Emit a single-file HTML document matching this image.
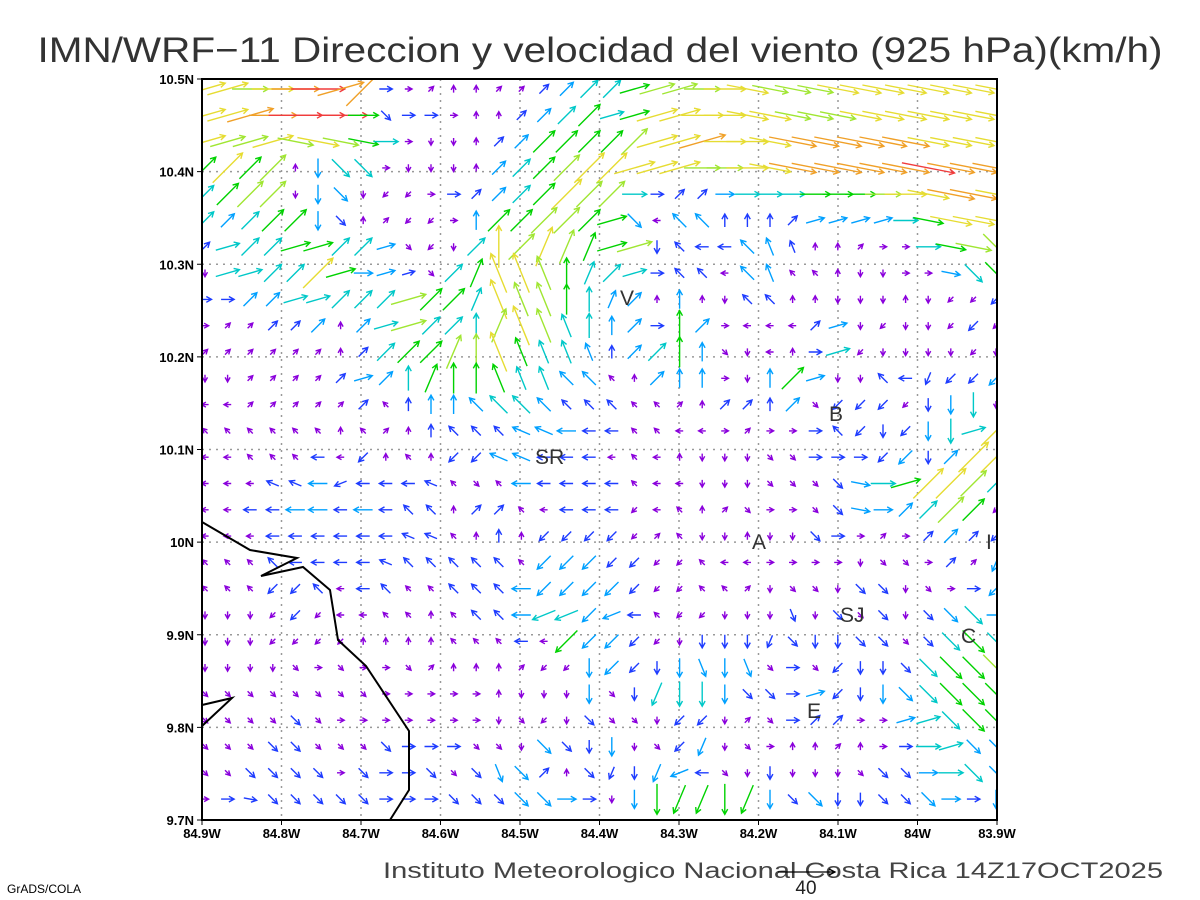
<!DOCTYPE html>
<html><head><meta charset="utf-8"><style>
html,body{margin:0;padding:0;background:#fff;}
svg{display:block;font-family:"Liberation Sans",sans-serif;}
</style></head><body>
<svg id="chart" width="1200" height="900" viewBox="0 0 1200 900">
<defs><clipPath id="plotclip"><rect x="202" y="79" width="795" height="741"/></clipPath></defs>
<text x="600" y="62" text-anchor="middle" font-size="35" fill="#333" textLength="1125" lengthAdjust="spacingAndGlyphs">IMN/WRF−11 Direccion y velocidad del viento (925 hPa)(km/h)</text>
<g id="grid"></g>
<g id="arrows" clip-path="url(#plotclip)"></g>
<g fill="none" stroke="#000" stroke-width="2">
<polyline points="202,522 250,550 297,558 261,576 303,567 330,590 338,640 366,666 409,731 409,790 390,820"/>
<polyline points="202,705 232,698 202,726"/>
</g>
<g font-size="21" fill="#333">
<text x="620" y="305">V</text><text x="829" y="421">B</text><text x="535" y="464">SR</text>
<text x="752" y="549">A</text><text x="986" y="549">I</text><text x="840" y="622">SJ</text>
<text x="961" y="643">C</text><text x="807" y="718">E</text>
</g>
<rect x="202" y="79" width="795" height="741" fill="none" stroke="#000" stroke-width="2"/>
<g id="axes" font-size="13" font-weight="bold" fill="#000"></g>
<text x="383" y="878" font-size="22" fill="#444" textLength="780" lengthAdjust="spacingAndGlyphs">Instituto Meteorologico Nacional Costa Rica 14Z17OCT2025</text>
<g stroke="#000" stroke-width="1.3" fill="none">
<line x1="778" y1="872" x2="835" y2="872"/><polyline points="829,869 835,872 829,875"/>
</g>
<text x="806" y="894" font-size="19" text-anchor="middle" fill="#222">40</text>
<text x="7" y="893" font-size="12" fill="#000">GrADS/COLA</text>
</svg>
<script>
const lonTicks = ["84.9W","84.8W","84.7W","84.6W","84.5W","84.4W","84.3W","84.2W","84.1W","84W","83.9W"];
const latTicks = ["9.7N","9.8N","9.9N","10N","10.1N","10.2N","10.3N","10.4N","10.5N"];
const speedByCode = [0,5,9,13,17,21,25,29,33,37];
const colorByCode = ["#000","#8a00dc","#1e3cff","#00a0ff","#00c8c8","#00d200","#a0e632","#e6dc32","#f0a028","#f03c3c"];
const angleByCode = {"6":0,"e":16,"9":45,"n":67,"8":90,"m":112,"7":135,"w":157,"4":180,"v":202,"1":225,"s":247,"2":270,"t":292,"3":315,"f":349};
const windRows = [
"e7 e7 66 67 68 69 e8 98 62 61 91 81 81 91 91 92 93 94 94 e5 e6 e6 66 67 f7 f6 f6 f6 f7 f7 f7 f7 f7 f7 f7 f7",
"e7 e7 e8 68 69 69 69 65 32 62 62 61 81 81 92 93 94 95 e4 e5 e7 e7 67 67 f7 f7 f6 f6 f6 f7 f7 f7 f7 f7 f7 f7",
"e7 e6 e6 e7 f6 f7 f6 f5 64 61 21 21 81 92 93 95 95 95 95 96 e7 e7 e8 67 67 f7 f8 f8 f8 f8 f8 f8 f7 f7 f7 f7",
"95 97 95 96 81 23 34 34 61 21 21 21 81 93 94 95 96 97 97 e7 e7 e7 66 66 67 f7 f8 f8 f8 f8 f8 f8 f9 f8 f8 f8",
"94 95 96 96 21 23 33 21 11 11 61 62 92 93 94 95 97 96 96 64 62 92 92 63 64 64 64 65 65 65 66 67 f7 f8 f8 f7",
"94 93 94 95 95 23 32 81 91 11 11 61 83 95 95 96 96 95 e5 33 41 73 73 82 82 82 92 e3 e3 e3 e3 64 f5 f7 f7 f7",
"92 e4 94 94 e5 e5 94 94 e3 31 11 21 94 87 96 n7 n6 n5 e5 e6 22 72 42 42 73 m3 m2 81 81 91 61 61 64 f5 f6 36",
"21 e4 e4 94 94 97 e5 63 e3 e2 31 94 n5 m7 m7 m6 85 n4 94 e4 62 72 72 41 73 m3 71 71 81 21 21 61 61 f3 34 35",
"62 62 93 93 e4 e4 94 94 94 e6 95 95 n4 m7 m6 m6 85 84 n3 93 81 83 81 21 72 72 81 81 21 21 21 81 21 11 11 12",
"61 91 91 92 92 93 81 93 e4 e6 94 94 84 n6 m7 m6 m4 84 83 93 62 85 93 61 41 41 41 92 e3 21 11 21 21 11 12 11",
"91 91 91 91 91 91 81 92 94 95 95 n6 86 m7 m5 m4 m4 m3 82 93 94 85 83 31 21 41 81 62 e4 11 21 21 21 21 11 21",
"21 21 91 91 91 91 92 e3 93 84 n5 85 85 m5 m4 m4 73 73 71 81 93 83 83 61 21 83 95 e3 21 21 72 42 s2 12 12 13",
"41 41 91 91 91 91 91 92 71 82 83 83 73 74 74 73 72 72 72 71 71 91 81 92 92 82 93 31 12 12 12 11 22 23 24 21",
"71 71 71 71 71 71 81 71 91 81 82 72 72 72 w3 w3 43 42 42 71 71 41 41 61 91 61 61 62 72 12 22 12 23 24 e4 97",
"41 41 71 71 71 42 41 12 81 71 81 12 12 w3 w3 42 42 42 41 71 41 81 21 21 21 31 31 62 62 62 12 13 22 93 97 97",
"41 41 41 w2 w2 43 v2 42 42 42 w2 71 31 71 43 42 42 42 42 71 41 41 21 21 21 31 31 31 32 f3 64 e5 97 97 96 94",
"41 41 42 42 43 43 42 43 42 72 72 81 92 92 71 41 42 42 42 11 41 71 81 91 31 61 61 31 32 f3 63 93 94 96 95 11",
"41 41 41 42 42 42 42 42 42 w2 w2 71 81 82 81 12 12 12 12 11 91 71 21 21 81 21 21 32 62 61 91 61 92 93 92 12",
"71 71 71 72 42 42 42 42 w2 72 72 72 72 72 71 13 13 13 12 12 11 11 71 41 41 61 61 61 61 21 31 31 61 92 91 s3",
"71 71 71 12 12 72 41 42 72 71 71 72 72 72 43 13 13 13 13 12 11 11 71 71 91 21 31 31 21 32 32 21 31 61 62 13",
"21 21 21 11 12 11 41 41 71 71 81 71 72 72 43 v4 v4 13 v3 42 71 11 11 21 21 21 t2 21 32 31 32 21 32 33 34 63",
"21 21 21 11 11 11 11 81 81 81 81 71 71 71 42 41 15 13 13 12 11 21 22 22 22 s2 32 22 22 32 32 31 32 34 35 34",
"21 21 21 21 31 61 31 61 61 31 91 81 81 81 91 11 11 23 13 12 22 23 t3 23 t3 31 62 31 12 22 22 32 34 35 35 36",
"31 31 31 31 31 31 31 31 61 61 61 61 61 81 21 21 21 23 31 22 s4 24 24 23 32 32 62 e3 12 22 23 33 34 35 35 35",
"31 31 31 31 32 31 61 61 61 61 61 61 61 21 31 11 21 32 31 31 21 12 12 21 91 31 62 92 92 61 61 e3 e4 34 35 35",
"31 31 31 32 32 31 31 31 32 62 62 62 31 31 21 33 32 22 23 21 31 12 s3 21 31 61 81 81 91 81 61 62 64 e4 33 33",
"31 31 32 32 32 32 61 32 62 62 32 31 32 t3 33 92 81 32 s2 22 s3 v3 42 31 21 22 21 21 21 31 32 32 63 64 34 33",
"61 62 f2 32 32 32 32 32 62 62 62 32 32 32 33 33 63 62 21 23 25 s5 s5 25 s5 23 32 33 22 22 32 32 33 63 62 23"
];
const NS = "http://www.w3.org/2000/svg";
const X0 = 202, X1 = 997, Y0 = 820, Y1 = 79;
const xLon = k => X0 + (X1 - X0) * k / 10;
const yLat = k => Y0 - (Y0 - Y1) * k / 8;
const colX = i => 205 + 22.6 * i;
const rowY = j => 89 + 26.3 * j;
const lenOf = s => s * 1.45;

const grid = document.getElementById('grid');
const axes = document.getElementById('axes');
for (let k = 0; k < lonTicks.length; k++) {
  const x = xLon(k);
  if (k > 0 && k < lonTicks.length - 1) {
    const l = document.createElementNS(NS, 'line');
    
    
    l.setAttribute('x1', x); l.setAttribute('x2', x); l.setAttribute('y1', Y1); l.setAttribute('y2', Y0);
    l.setAttribute('stroke', '#999'); l.setAttribute('stroke-width', '1.5'); l.setAttribute('stroke-dasharray', '2,5');
    grid.appendChild(l);
  }
  const t = document.createElementNS(NS, 'text');
  
  
  t.setAttribute('x', x); t.setAttribute('y', 838); t.setAttribute('text-anchor', 'middle');
  t.textContent = lonTicks[k];
  axes.appendChild(t);
  const tk = document.createElementNS(NS, 'line');
  
  
  tk.setAttribute('x1', x); tk.setAttribute('x2', x); tk.setAttribute('y1', Y0); tk.setAttribute('y2', Y0 + 5);
  tk.setAttribute('stroke', '#000');
  axes.appendChild(tk);
}
for (let k = 0; k < latTicks.length; k++) {
  const y = yLat(k);
  if (k > 0 && k < latTicks.length - 1) {
    const l = document.createElementNS(NS, 'line');
    
    
    l.setAttribute('x1', X0); l.setAttribute('x2', X1); l.setAttribute('y1', y); l.setAttribute('y2', y);
    l.setAttribute('stroke', '#999'); l.setAttribute('stroke-width', '1.5'); l.setAttribute('stroke-dasharray', '2,5');
    grid.appendChild(l);
  }
  const t = document.createElementNS(NS, 'text');
  
  
  t.setAttribute('x', 194); t.setAttribute('y', y + 5); t.setAttribute('text-anchor', 'end');
  t.textContent = latTicks[k];
  axes.appendChild(t);
  const tk = document.createElementNS(NS, 'line');
  
  
  tk.setAttribute('x1', X0 - 5); tk.setAttribute('x2', X0); tk.setAttribute('y1', y); tk.setAttribute('y2', y);
  tk.setAttribute('stroke', '#000');
  axes.appendChild(tk);
}

const arrows = document.getElementById('arrows');
windRows.forEach((row, j) => {
  row.trim().split(/\s+/).forEach((cell, i) => {
    const ang = angleByCode[cell[0]] * Math.PI / 180;
    const code = +cell[1];
    const L = lenOf(speedByCode[code]);
    const cx = colX(i), cy = rowY(j);
    const dx = Math.cos(ang), dy = -Math.sin(ang);
    const x1 = cx - dx * L / 2, y1 = cy - dy * L / 2, x2 = cx + dx * L / 2, y2 = cy + dy * L / 2;
    const h = Math.min(6, 0.3 * L + 3);
    const a1 = ang + Math.PI - 0.5, a2 = ang + Math.PI + 0.5;
    const p = document.createElementNS(NS, 'path');
    
    
    p.setAttribute('d', `M${x1.toFixed(1)},${y1.toFixed(1)}L${x2.toFixed(1)},${y2.toFixed(1)}M${(x2 + Math.cos(a1) * h).toFixed(1)},${(y2 - Math.sin(a1) * h).toFixed(1)}L${x2.toFixed(1)},${y2.toFixed(1)}L${(x2 + Math.cos(a2) * h).toFixed(1)},${(y2 - Math.sin(a2) * h).toFixed(1)}`);
    p.setAttribute('stroke', colorByCode[code]);
    p.setAttribute('stroke-width', '1.4');
    p.setAttribute('fill', 'none');
    arrows.appendChild(p);
  });
});
</script>
</body></html>
